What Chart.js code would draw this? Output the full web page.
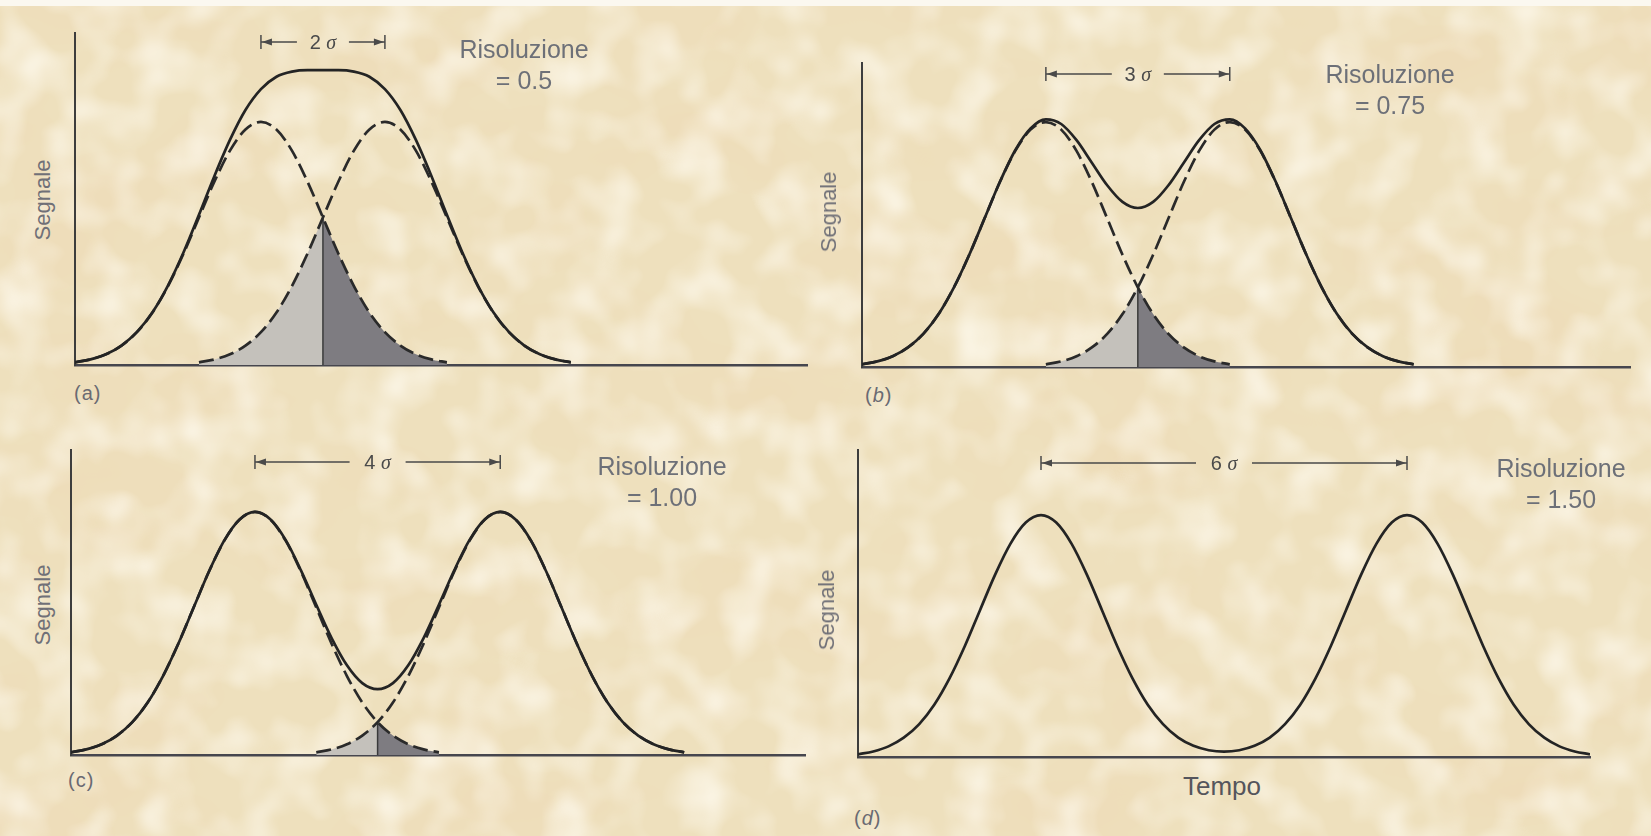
<!DOCTYPE html>
<html><head><meta charset="utf-8">
<script src="https://cdn.jsdelivr.net/npm/chart.js@4.4.1/dist/chart.umd.min.js"></script>
<style>
html,body{margin:0;padding:0;}
body{width:1651px;height:836px;position:relative;overflow:hidden;background:#eee0bd;font-family:"Liberation Sans",Arial,sans-serif;}
#tex{position:absolute;left:0;top:0;}
canvas{position:absolute;}
.res{position:absolute;width:200px;text-align:center;font-size:25px;line-height:31px;color:#6d7078;white-space:nowrap;}
.seg{position:absolute;font-size:22px;line-height:26px;color:#707077;transform:translate(-50%,-50%) rotate(-90deg);white-space:nowrap;}
.lab{position:absolute;font-size:20px;line-height:24px;letter-spacing:1px;color:#6a6a72;transform:translateY(-50%);}
.sig{position:absolute;transform:translate(-50%,-50%);font-size:20px;line-height:22px;color:#4a4a4a;white-space:nowrap;}
.sig i{font-family:"Liberation Serif",serif;}
.tempo{position:absolute;font-size:26px;line-height:30px;color:#55555c;transform:translate(-50%,-50%);}
</style></head>
<body>
<svg id="tex" width="1651" height="836" xmlns="http://www.w3.org/2000/svg">
<defs>
<filter id="f1" x="0" y="0" width="100%" height="100%">
<feTurbulence type="fractalNoise" baseFrequency="0.005 0.009" numOctaves="3" seed="7"/>
<feColorMatrix type="matrix" values="0 0 0 0 0.86  0 0 0 0 0.70  0 0 0 0 0.47  1.6 0 0 0 -0.72"/>
</filter>
<filter id="f2" x="0" y="0" width="100%" height="100%">
<feTurbulence type="fractalNoise" baseFrequency="0.022" numOctaves="2" seed="3"/>
<feColorMatrix type="matrix" values="0 0 0 0 1  0 0 0 0 0.97  0 0 0 0 0.89  1.5 0 0 0 -0.62"/>
</filter>
</defs>
<rect width="1651" height="836" fill="#eee0bd"/>
<rect width="1651" height="836" filter="url(#f1)"/>
<rect width="1651" height="836" filter="url(#f2)"/>
<rect width="1651" height="6" fill="#fbf8f0"/>
</svg>
<script>
// ---- data (x in units of sigma, y relative to one peak's height) ----
const timeGrid = [0,0.25,0.5,0.75,1,1.25,1.5,1.75,2,2.25,2.5,2.75,3,3.25,3.5,3.75,4,4.25,4.5,4.75,5,5.25,5.5,5.75,6,6.25,6.5,6.75,7,7.25,7.5,7.75,8,8.25,8.5,8.75,9,9.25,9.5,9.75,10,10.25,10.5,10.75,11,11.25,11.5,11.75,12];
const peakOffsets = [-3,-2.75,-2.5,-2.25,-2,-1.75,-1.5,-1.25,-1,-0.75,-0.5,-0.25,0,0.25,0.5,0.75,1,1.25,1.5,1.75,2,2.25,2.5,2.75,3];
const peakProfile = [0.011,0.023,0.044,0.080,0.135,0.216,0.325,0.458,0.607,0.755,0.882,0.969,1.000,0.969,0.882,0.755,0.607,0.458,0.325,0.216,0.135,0.080,0.044,0.023,0.011];
const centresA = [3,5];
const centresB = [3,6];
const centresC = [3,7];
const centresD = [3,9];
const sumA = [0.011,0.023,0.044,0.080,0.136,0.217,0.327,0.463,0.618,0.778,0.926,1.049,1.135,1.186,1.207,1.213,1.213,1.213,1.207,1.186,1.135,1.049,0.926,0.778,0.618,0.463,0.327,0.217,0.136,0.080,0.044,0.023,0.011];
const sumB = [0.011,0.023,0.044,0.080,0.135,0.216,0.325,0.458,0.607,0.756,0.885,0.974,1.011,0.992,0.926,0.834,0.742,0.674,0.649,0.674,0.742,0.834,0.926,0.992,1.011,0.974,0.885,0.756,0.607,0.458,0.325,0.216,0.135,0.080,0.044,0.023,0.011];
const sumC = [0.011,0.023,0.044,0.080,0.135,0.216,0.325,0.458,0.607,0.755,0.883,0.969,1.000,0.970,0.885,0.760,0.618,0.481,0.369,0.296,0.271,0.296,0.369,0.481,0.618,0.760,0.885,0.970,1.000,0.969,0.883,0.755,0.607,0.458,0.325,0.216,0.135,0.080,0.044,0.023,0.011];
const sumD = [0.011,0.023,0.044,0.080,0.135,0.216,0.325,0.458,0.607,0.755,0.882,0.969,1.000,0.969,0.882,0.755,0.607,0.458,0.325,0.216,0.136,0.080,0.046,0.028,0.022,0.028,0.046,0.080,0.136,0.216,0.325,0.458,0.607,0.755,0.882,0.969,1.000,0.969,0.882,0.755,0.607,0.458,0.325,0.216,0.135,0.080,0.044,0.023,0.011];
const sigmaLabels = ['2','3','4','6'];
const resolutionLabels = ['0.5','0.75','1.00','1.50'];
const panelLetters = ['a','b','c','d'];
const axisTitleY = 'Segnale';
const axisTitleX = 'Tempo';

// ---- layout (page pixels) ----
const P = 12;
const layouts = [
  {sum:sumA, centres:centresA, shade:true,  ax:75,  top:33,  base:365, end:807,  xMax:11.81, yMax:1.366, markY:42,  gap:26, res:[524,49],  seg:[43,200],  lab:[74,393],  italic:false},
  {sum:sumB, centres:centresB, shade:true,  ax:862, top:63,  base:367, end:1630, xMax:12.53, yMax:1.241, markY:74,  gap:26, res:[1390,74], seg:[829,212], lab:[865,395], italic:true},
  {sum:sumC, centres:centresC, shade:true,  ax:71,  top:450, base:755, end:805,  xMax:11.97, yMax:1.255, markY:462, gap:28, res:[662,466], seg:[43,605],  lab:[68,780],  italic:false},
  {sum:sumD, centres:centresD, shade:false, ax:858, top:450, base:757, end:1590, xMax:12.0,  yMax:1.269, markY:463, gap:28, res:[1561,468],seg:[827,610], lab:[854,818], italic:true}
];

function pts(xs, ys){ return ys.map((y,i)=>({x:xs[i], y:y})); }
function el(cls, html, css){ const d=document.createElement('div'); d.className=cls; d.innerHTML=html; Object.assign(d.style, css); document.body.appendChild(d); return d; }

const markerPlugin = {
  id:'sigmaMarker',
  afterDatasetsDraw(chart){
    const o = chart.options.plugins.sigmaMarker;
    const xs = chart.scales.x, ctx = chart.ctx;
    const x1 = xs.getPixelForValue(o.c1), x2 = xs.getPixelForValue(o.c2);
    const xm = (x1+x2)/2, y = o.y;
    ctx.save();
    ctx.strokeStyle = '#4a4a4a'; ctx.fillStyle = '#4a4a4a'; ctx.lineWidth = 1.5;
    ctx.beginPath();
    ctx.moveTo(x1, y-7); ctx.lineTo(x1, y+7);
    ctx.moveTo(x2, y-7); ctx.lineTo(x2, y+7);
    ctx.moveTo(x1, y); ctx.lineTo(xm-o.gap, y);
    ctx.moveTo(xm+o.gap, y); ctx.lineTo(x2, y);
    ctx.stroke();
    ctx.beginPath();
    ctx.moveTo(x1+1, y); ctx.lineTo(x1+11, y-3.5); ctx.lineTo(x1+11, y+3.5); ctx.closePath();
    ctx.moveTo(x2-1, y); ctx.lineTo(x2-11, y-3.5); ctx.lineTo(x2-11, y+3.5); ctx.closePath();
    ctx.fill();
    ctx.restore();
    if (o.label) { o.label.style.left = (o.left + xm) + 'px'; o.label.style.top = (o.top + y) + 'px'; }
  }
};

layouts.forEach((p, k) => {
  const w = p.end - p.ax + 2*P, h = p.base - p.top + 2*P;
  const cv = document.createElement('canvas');
  cv.width = w; cv.height = h;
  const left = p.ax - P, top = p.top - P;
  Object.assign(cv.style, {left:left+'px', top:top+'px', width:w+'px', height:h+'px'});
  document.body.appendChild(cv);

  const c1 = p.centres[0], c2 = p.centres[1], mid = (c1+c2)/2;
  const comp1 = pts(peakOffsets.map(o=>c1+o), peakProfile);
  const comp2 = pts(peakOffsets.map(o=>c2+o), peakProfile);
  const datasets = [{data: pts(timeGrid, p.sum), borderColor:'#242424', borderWidth:2.7}];
  if (p.shade) {
    const dash = {borderColor:'#2a2a2a', borderWidth:2.7, borderDash:[15,6]};
    datasets.push(Object.assign({data: comp1}, dash));
    datasets.push(Object.assign({data: comp2}, dash));
    const cross = comp1.find(q=>q.x===mid).y;
    datasets.push({data:[{x:mid,y:0},{x:mid,y:cross}], borderColor:'#3a3a3a', borderWidth:1.5, cubicInterpolationMode:'default', tension:0});
    datasets.push({data: comp2.filter(q=>q.x<=mid), borderColor:'rgba(0,0,0,0)', borderWidth:0, fill:'origin', backgroundColor:'#c4c1bb'});
    datasets.push({data: comp1.filter(q=>q.x>=mid), borderColor:'rgba(0,0,0,0)', borderWidth:0, fill:'origin', backgroundColor:'#7e7c81'});
  }

  const label = el('sig', sigmaLabels[k] + ' <i>σ</i>', {});

  new Chart(cv, {
    type:'line',
    data:{datasets},
    plugins:[markerPlugin],
    options:{
      responsive:false, animation:false, events:[],
      layout:{padding:P},
      elements:{point:{radius:0}, line:{cubicInterpolationMode:'monotone', fill:false}},
      plugins:{legend:{display:false}, tooltip:{enabled:false},
        sigmaMarker:{c1:c1, c2:c2, y:p.markY - top, gap:p.gap, label:label, left:left, top:top}},
      scales:{
        x:{type:'linear', min:0, max:p.xMax, ticks:{display:false}, grid:{display:false, drawTicks:false}, border:{display:true, color:'#46464e', width:2.6}},
        y:{type:'linear', min:0, max:p.yMax, ticks:{display:false}, grid:{display:false, drawTicks:false}, border:{display:true, color:'#3d3d3d', width:2}}
      }
    }
  });

  el('res', 'Risoluzione<br>= ' + resolutionLabels[k], {left:(p.res[0]-100)+'px', top:(p.res[1]-15.5)+'px'});
  el('seg', axisTitleY, {left:p.seg[0]+'px', top:p.seg[1]+'px'});
  const L = panelLetters[k];
  el('lab', '(' + (p.italic ? '<i>'+L+'</i>' : L) + ')', {left:p.lab[0]+'px', top:p.lab[1]+'px'});
});
el('tempo', axisTitleX, {left:'1222px', top:'786px'});
</script>
</body></html>
